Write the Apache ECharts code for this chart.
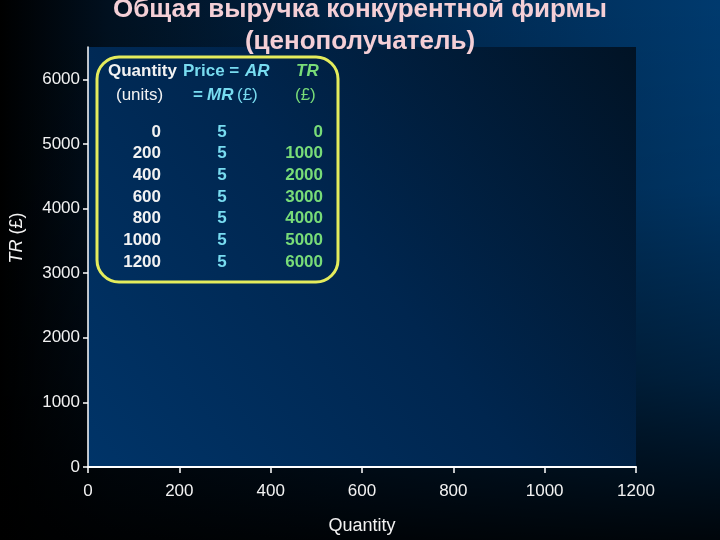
<!DOCTYPE html>
<html>
<head>
<meta charset="utf-8">
<script src="https://cdn.jsdelivr.net/npm/echarts@6/dist/echarts.min.js"></script>
<style>
  html, body { margin: 0; padding: 0; }
  body {
    width: 720px; height: 540px; overflow: hidden;
    background:
      linear-gradient(to bottom, rgba(0,0,0,0) 0%, rgba(0,0,0,0.1) 35%, rgba(0,0,0,0.45) 70%, rgba(0,0,0,0.9) 100%),
      linear-gradient(to right, #000000 0%, #01101f 15%, #002448 50%, #003a6e 100%);
  }
  #chart { width: 720px; height: 540px; }
</style>
</head>
<body>
<div id="chart"></div>
<script>
// data
var quantity = [0, 200, 400, 600, 800, 1000, 1200];
var price = [5, 5, 5, 5, 5, 5, 5];
var tr = [0, 1000, 2000, 3000, 4000, 5000, 6000];
var yTicks = [0, 1000, 2000, 3000, 4000, 5000, 6000];

var chart = echarts.init(document.getElementById("chart"));

var font = "Liberation Sans, Arial, sans-serif";
var white = "#f2f2f2";
var cyan = "#78dcf0";
var green = "#78dc78";

// table overlay
var tableItems = [
  {
    type: "rect",
    shape: { x: 97, y: 57, width: 241, height: 225, r: 22 },
    style: { fill: null, stroke: "#e4ec5c", lineWidth: 3 }
  },
  { type: "text", left: 108, top: 63, style: { text: "Quantity", fill: white, font: "bold 17px " + font } },
  { type: "text", left: 183, top: 63, style: { text: "Price = ", fill: cyan, font: "bold 17px " + font } },
  { type: "text", left: 245, top: 63, style: { text: "AR", fill: cyan, font: "italic bold 17px " + font } },
  { type: "text", left: 296, top: 63, style: { text: "TR", fill: green, font: "italic bold 17px " + font } },
  { type: "text", left: 116, top: 87, style: { text: "(units)", fill: white, font: "17px " + font } },
  { type: "text", left: 193, top: 87, style: { text: "= ", fill: cyan, font: "bold 17px " + font } },
  { type: "text", left: 207, top: 87, style: { text: "MR", fill: cyan, font: "italic bold 17px " + font } },
  { type: "text", left: 237, top: 87, style: { text: "(£)", fill: cyan, font: "17px " + font } },
  { type: "text", left: 295, top: 87, style: { text: "(£)", fill: green, font: "17px " + font } }
];
for (var i = 0; i < quantity.length; i++) {
  var y = 132 + i * 21.7;
  tableItems.push({ type: "text", x: 161, y: y, style: { text: String(quantity[i]), fill: white, font: "bold 17px " + font, align: "right", verticalAlign: "middle" } });
  tableItems.push({ type: "text", x: 222, y: y, style: { text: String(price[i]), fill: cyan, font: "bold 17px " + font, align: "center", verticalAlign: "middle" } });
  tableItems.push({ type: "text", x: 323, y: y, style: { text: String(tr[i]), fill: green, font: "bold 17px " + font, align: "right", verticalAlign: "middle" } });
}

function plain(v) {
  return String(v);
}

chart.setOption({
  backgroundColor: "transparent",
  title: {
    text: "Общая выручка конкурентной фирмы\n(ценополучатель)",
    left: "center",
    top: -11,
    textStyle: {
      color: "#f4cfd6",
      fontFamily: font,
      fontWeight: "bold",
      fontSize: 26,
      lineHeight: 32
    }
  },
  grid: {
    left: 87,
    right: 84,
    top: 47,
    bottom: 73,
    show: true,
    borderWidth: 0,
    backgroundColor: new echarts.graphic.LinearGradient(0, 1, 1, 0, [
      { offset: 0, color: "#003468" },
      { offset: 0.5, color: "#00264f" },
      { offset: 1, color: "#011325" }
    ])
  },
  xAxis: {
    type: "value",
    min: 0,
    max: 1200,
    interval: 200,
    name: "Quantity",
    nameLocation: "middle",
    nameGap: 50,
    nameTextStyle: { color: white, fontFamily: font, fontSize: 18 },
    axisLine: { lineStyle: { color: "#ffffff", width: 2 } },
    axisTick: { show: true, inside: false, length: 6, lineStyle: { color: "#ffffff", width: 1.5 } },
    axisLabel: { color: white, fontFamily: font, fontSize: 17, margin: 16, formatter: plain },
    splitLine: { show: false }
  },
  yAxis: {
    type: "value",
    min: 0,
    max: 6500,
    name: "{i|TR} (£)",
    nameLocation: "middle",
    nameGap: 62,
    nameRotate: 90,
    nameTextStyle: {
      color: white, fontFamily: font, fontSize: 18,
      padding: [0, 0, 0, 38],
      rich: { i: { fontStyle: "italic", color: white, fontFamily: font, fontSize: 18 } }
    },
    axisLine: { show: true, lineStyle: { color: "#ffffff", width: 1.5 } },
    axisTick: { show: true, length: 5, customValues: yTicks, lineStyle: { color: "#ffffff", width: 1.5 } },
    axisLabel: { color: white, fontFamily: font, fontSize: 17, margin: 8, customValues: yTicks, formatter: plain },
    splitLine: { show: false }
  },
  series: [],
  graphic: tableItems
});
</script>
</body>
</html>
